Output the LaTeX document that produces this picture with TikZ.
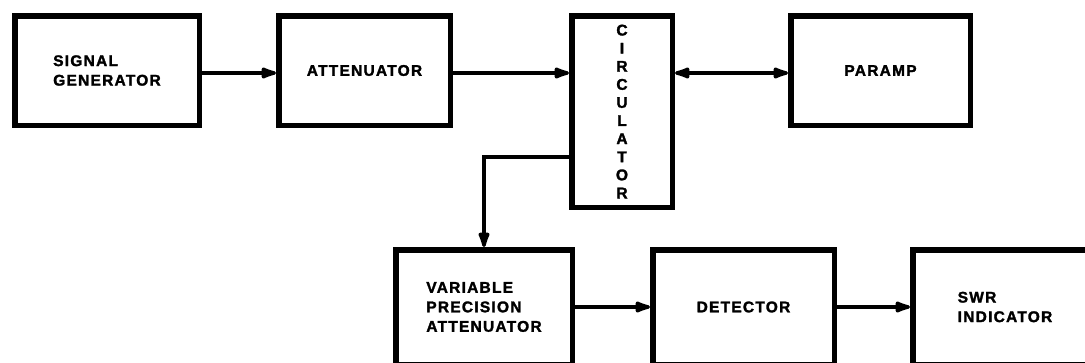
\documentclass[tikz,border=0pt]{standalone}
\usepackage{fontspec}
\setmainfont{Liberation Sans}[LetterSpace=8, BoldFeatures={FakeBold=1.8}]
\usetikzlibrary{arrows.meta}
\tikzset{
  blk/.style={draw, line width=5.5pt, rectangle, inner sep=0pt, align=left,
    font=\fontsize{15.5}{19.5}\selectfont\bfseries},
  tip/.tip={Latex[length=21pt,width=13pt,round]},
  conn/.style={line width=3.4pt, -tip},
  conn2/.style={line width=3.4pt, tip-tip}
}
\begin{document}
\begin{tikzpicture}[x=1pt,y=-1pt]
\useasboundingbox (0,0) rectangle (1085,362);
\clip (0,0) rectangle (1085,362);
% top row (outer edges measured; min sizes = outer - line width)
\node[blk, minimum width=184.5pt, minimum height=109.5pt] (sg) at (107,70.5) {SIGNAL\\GENERATOR};
\node[blk, minimum width=171.5pt, minimum height=109.5pt] (att) at (364.5,70.5) {ATTENUATOR};
\node[blk, minimum width=100.5pt, minimum height=191.5pt, align=center,
      font=\fontsize{15.5}{18.1}\selectfont\bfseries] (circ) at (622,111.5)
      {C\\I\\R\\C\\U\\L\\A\\T\\O\\R};
\node[blk, minimum width=179.5pt, minimum height=109.5pt] (pa) at (880.5,70.5) {PARAMP};
% bottom row
\node[blk, minimum width=176.5pt, minimum height=114.5pt] (vpa) at (484,307) {VARIABLE\\PRECISION\\ATTENUATOR};
\node[blk, minimum width=181.5pt, minimum height=114.5pt] (det) at (743.5,307) {DETECTOR};
\node[blk, minimum width=184.5pt, minimum height=114.5pt] (swr) at (1005,307) {SWR\\INDICATOR};
% connector rows
\coordinate (rowa) at (0,73);
\coordinate (rowb) at (0,307);
\coordinate (rowc) at (0,157);
\draw[conn] (sg.east |- rowa) -- (att.west |- rowa);
\draw[conn] (att.east |- rowa) -- (circ.west |- rowa);
\draw[conn2] (circ.east |- rowa) -- (pa.west |- rowa);
\draw[conn] (circ.west |- rowc) -| (vpa.north);
\draw[conn] (vpa.east |- rowb) -- (det.west |- rowb);
\draw[conn] (det.east |- rowb) -- (swr.west |- rowb);
\end{tikzpicture}
\end{document}
